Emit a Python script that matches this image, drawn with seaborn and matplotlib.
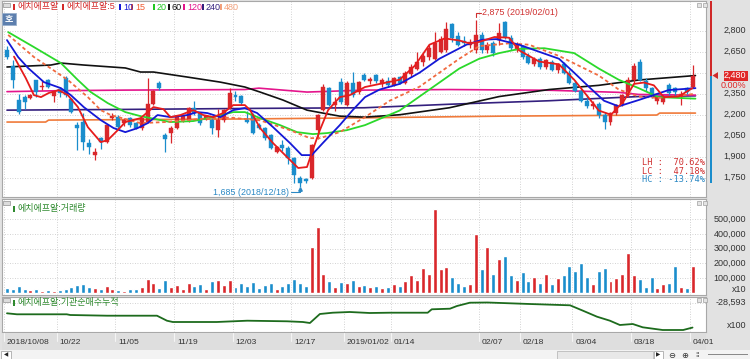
import matplotlib
matplotlib.use('Agg')
import matplotlib.pyplot as plt
from matplotlib.patches import Rectangle, Polygon
import numpy as np
import pandas as pd
import seaborn as sns

# 에치에프알 일봉 2018/10/08 ~ 2019/04/01 (118개)
opens = [2662, 2548, 2305, 2326, 2320, 2448, 2398, 2448, 2333, 2383, 2462, 2312, 2126, 2147, 1998, 1912,
         2033, 2005, 2176, 2183, 2140, 2176, 2140, 2105, 2148, 2276, 2426, 2055, 2069, 2105, 2162, 2162,
         2248, 2212, 2176, 2162, 2090, 2162, 2248, 2340, 2333, 2160, 2198, 2126, 2105, 2055, 1934, 1983,
         1962, 1891, 1748, 1740, 1748, 2090, 2233, 2390, 2269, 2433, 2269, 2426, 2362, 2483, 2440, 2483,
         2420, 2440, 2410, 2470, 2430, 2490, 2530, 2580, 2610, 2600, 2650, 2660, 2848, 2760, 2730, 2700,
         2662, 2770, 2660, 2710, 2733, 2860, 2750, 2660, 2690, 2620, 2560, 2600, 2540, 2580, 2520, 2560,
         2500, 2430, 2370, 2300, 2260, 2280, 2200, 2150, 2210, 2280, 2340, 2450, 2578, 2440, 2390, 2300,
         2290, 2412, 2390, 2330, 2390, 2400]
highs = [2690, 2590, 2345, 2340, 2345, 2450, 2450, 2455, 2370, 2400, 2475, 2320, 2150, 2212, 2030, 1960,
         2040, 2130, 2215, 2200, 2175, 2185, 2150, 2180, 2462, 2380, 2440, 2070, 2120, 2195, 2195, 2255,
         2300, 2220, 2200, 2176, 2240, 2240, 2390, 2370, 2340, 2230, 2210, 2140, 2110, 2060, 1975, 2020,
         1975, 1900, 1760, 1750, 1990, 2205, 2420, 2400, 2330, 2460, 2440, 2505, 2440, 2500, 2470, 2490,
         2460, 2470, 2470, 2480, 2510, 2560, 2650, 2640, 2700, 2790, 2760, 2860, 2855, 2790, 2760, 2740,
         2875, 2790, 2720, 2730, 2855, 2870, 2770, 2720, 2700, 2640, 2610, 2610, 2600, 2590, 2570, 2580,
         2520, 2450, 2390, 2340, 2300, 2290, 2220, 2220, 2280, 2350, 2470, 2570, 2600, 2460, 2400, 2335,
         2340, 2430, 2400, 2370, 2400, 2555]
lows = [2600, 2390, 2205, 2240, 2310, 2330, 2380, 2390, 2290, 2330, 2330, 2215, 1950, 1948, 1920, 1877,
        1955, 2000, 2165, 2100, 2120, 2110, 2095, 2090, 2140, 2270, 2380, 1934, 1995, 2100, 2150, 2150,
        2200, 2130, 2160, 2060, 2040, 2150, 2240, 2300, 2270, 2140, 2060, 2100, 2020, 1955, 1930, 1940,
        1850, 1712, 1685, 1715, 1740, 2030, 2225, 2260, 2230, 2280, 2260, 2330, 2350, 2440, 2420, 2430,
        2400, 2400, 2405, 2420, 2420, 2470, 2520, 2550, 2590, 2590, 2640, 2650, 2720, 2690, 2690, 2680,
        2640, 2640, 2640, 2620, 2700, 2740, 2660, 2650, 2600, 2560, 2550, 2530, 2530, 2510, 2500, 2490,
        2420, 2360, 2290, 2250, 2240, 2180, 2100, 2130, 2200, 2260, 2330, 2430, 2440, 2370, 2320, 2280,
        2280, 2340, 2340, 2270, 2350, 2390]
closes = [2612, 2448, 2220, 2290, 2340, 2362, 2405, 2398, 2362, 2355, 2340, 2220, 2105, 2005, 1969, 1934,
          2005, 2126, 2190, 2112, 2162, 2126, 2105, 2176, 2276, 2369, 2390, 2026, 2105, 2190, 2190, 2248,
          2212, 2140, 2190, 2105, 2162, 2233, 2355, 2326, 2283, 2150, 2069, 2105, 2033, 1962, 1969, 1962,
          1891, 1769, 1712, 1725, 1983, 2198, 2398, 2269, 2290, 2290, 2426, 2340, 2433, 2448, 2455, 2440,
          2450, 2410, 2460, 2430, 2495, 2540, 2580, 2620, 2680, 2712, 2740, 2810, 2748, 2700, 2715, 2720,
          2770, 2660, 2700, 2640, 2783, 2755, 2680, 2700, 2610, 2570, 2600, 2540, 2590, 2520, 2560, 2500,
          2430, 2370, 2300, 2260, 2280, 2200, 2150, 2210, 2270, 2340, 2450, 2550, 2448, 2390, 2340, 2330,
          2325, 2355, 2360, 2350, 2362, 2480]
volumes = [35000, 28000, 45000, 30000, 18000, 25000, 12000, 22000, 15000, 20000, 30000, 40000,
           55000, 60000, 40000, 35000, 30000, 45000, 25000, 20000, 15000,
           30000, 25000, 40000, 95000, 70000, 35000, 85000, 40000, 55000, 30000, 65000, 45000, 60000,
           25000, 80000, 90000, 55000, 85000, 40000, 70000,
           45000, 75000, 35000, 55000, 70000, 30000, 45000, 65000, 95000, 70000, 50000, 315000, 450000,
           130000, 80000, 40000, 75000, 70000, 85000, 45000, 55000,
           40000, 50000, 35000, 40000, 60000, 45000, 80000, 120000, 90000, 170000, 130000, 570000,
           160000, 175000, 110000, 70000, 45000, 60000,
           400000, 160000, 310000, 130000, 230000, 250000, 120000, 90000, 140000, 80000, 110000, 70000,
           130000, 60000, 100000, 120000, 180000,
           150000, 200000, 110000, 60000, 150000, 170000, 80000, 100000, 130000, 270000,
           120000, 93000, 40000, 107000, 33000, 60000, 67000, 183000, 40000, 33000, 183000]

# 이동평균선
ma5_x = [1.2, 3.2, 4.6, 5.8, 7.1, 8.8, 10.4, 12.1, 13.8, 16, 17.2, 18.9, 20.2, 22.8, 25, 26.7, 27.9, 29.6,
         31.8, 33.5, 35.2, 36.9, 38.6, 40.6, 41.5, 43.2, 45.4, 47.8, 49.7, 51.2, 52, 53.4, 54.8, 56.8, 58.5,
         61.1, 63.6, 67, 69.6, 72.1, 74.7, 77.2, 78.9, 80.6, 83.2, 85.7, 87.4, 90.8, 94.2, 96.8, 99.3, 101,
         103.1, 105.3, 107, 108.7, 110.4, 112.1, 114.6, 117]
ma5_y = [2615, 2462, 2340, 2326, 2355, 2376, 2340, 2255, 2112, 2005, 2019, 2090, 2148, 2176, 2255, 2240, 2183,
         2198, 2233, 2198, 2183, 2212, 2269, 2269, 2233, 2105, 1998, 1898, 1820, 1827, 1926, 2090, 2233, 2326,
         2340, 2398, 2420, 2450, 2550, 2700, 2745, 2730, 2710, 2720, 2755, 2750, 2660, 2580, 2560, 2450, 2320,
         2230, 2200, 2300, 2420, 2430, 2410, 2326, 2330, 2390]
ma10_x = [0, 1.9, 3.6, 6.3, 9.2, 10.9, 13.1, 16, 18.2, 20.2, 22.3, 24, 25.7, 27.9, 30.8, 32.5, 34.2, 36.4,
          38.6, 40.6, 42.7, 45.4, 48.3, 50.3, 52, 53.9, 56.8, 59, 61.1, 63.6, 67, 70.4, 73.8, 78.4, 81.1, 83.5,
          87.4, 90.8, 94.2, 96.8, 99.3, 101.9, 104.4, 107.8, 112.9, 117.5]
ma10_y = [2733, 2612, 2534, 2433, 2390, 2340, 2255, 2162, 2105, 2076, 2105, 2140, 2198, 2183, 2198, 2219, 2212,
          2183, 2233, 2248, 2212, 2112, 1998, 1912, 1912, 1998, 2126, 2233, 2326, 2380, 2420, 2500, 2600, 2700,
          2735, 2740, 2700, 2650, 2600, 2500, 2400, 2300, 2260, 2305, 2376, 2390]
ma15_x = [0.2, 4.6, 10.4, 13.8, 16, 17.7, 22.8, 27, 33, 38, 43.2, 48.3, 51.7, 53.4, 56.8, 61.1, 65.3, 70.4,
          77.2, 80.6, 85.7, 89.1, 94.2, 101, 104.4, 107.8, 111.2, 117.5]
ma15_y = [2770, 2612, 2448, 2326, 2233, 2198, 2140, 2148, 2170, 2180, 2160, 2090, 2033, 2033, 2076, 2183, 2300,
          2400, 2600, 2690, 2710, 2700, 2620, 2480, 2380, 2330, 2320, 2350]
ma20_x = [0.2, 4.6, 9.2, 12.1, 14.3, 17.2, 20.2, 22.8, 27.9, 31.8, 35.2, 38.6, 40.6, 43.2, 46.6, 49.5, 52.2,
          54.6, 58, 61.1, 67, 72.1, 77.2, 80.6, 84, 87.4, 91.7, 96.8, 101, 104.4, 107.8, 111.2, 117.5]
ma20_y = [2790, 2683, 2569, 2448, 2362, 2283, 2219, 2190, 2148, 2155, 2183, 2219, 2219, 2176, 2126, 2076, 2062,
          2069, 2090, 2126, 2230, 2380, 2530, 2600, 2640, 2670, 2675, 2640, 2530, 2450, 2390, 2326, 2315]
ma60_x = [0, 7.5, 9.2, 13.1, 20.2, 22.8, 25, 30.8, 36.4, 40.6, 43.2, 47.1, 51.2, 53.9, 56.8, 61.1, 67, 75.5,
          84, 92.5, 101, 107.8, 117.5]
ma60_y = [2541, 2555, 2569, 2555, 2534, 2505, 2505, 2469, 2433, 2398, 2362, 2305, 2233, 2212, 2190, 2183, 2200,
          2250, 2330, 2380, 2410, 2448, 2480]
ma120_x = [0, 9.2, 20.2, 40.6, 43, 51.2, 61, 75.5, 92.5, 104.4, 107.8, 117.5]
ma120_y = [2365, 2372, 2376, 2380, 2390, 2362, 2376, 2380, 2375, 2360, 2345, 2340]
ma240_x = [0, 20, 40.6, 61, 75.5, 92.5, 107.8, 117.5]
ma240_y = [2233, 2238, 2245, 2250, 2275, 2300, 2330, 2335]
ma480_x = [0, 6.6, 7.1, 40.6, 61, 84, 110.9, 111.4, 117.5]
ma480_y = [2148, 2148, 2162, 2170, 2178, 2190, 2198, 2212, 2212]

# 기관순매수누적 (x100)
cum_x = [0, 1.7, 10.2, 10.8, 17.1, 25.6, 27.3, 28.3, 35.8, 41, 47.8, 50.5, 51.7, 53.4, 55.6, 58.5, 61.9,
         65.4, 71.8, 72.5, 75.6, 76.8, 79, 82, 89.2, 96.1, 98.3, 100.7, 102.9, 104.6, 106.8, 108.5, 111.9,
         115.4, 117]
cum_y = [-29889, -30009, -30009, -30093, -30177, -30177, -30777, -30933, -30933, -30777, -30849, -30933,
         -31053, -29973, -29817, -29733, -29853, -29817, -29817, -29409, -29337, -29013, -28617, -28593,
         -28773, -28929, -29577, -30297, -30777, -31293, -31173, -31569, -31893, -31893, -31600]

date_idx = [0, 9, 19, 29, 39, 49, 58, 66, 81, 88, 97, 107, 117]
date_labels = ['2018/10/08', '10/22', '11/05', '11/19', '12/03', '12/17', '2019/01/02', '01/14',
               '02/07', '02/18', '03/04', '03/18', '04/01']
price_ticks = [1750, 1900, 2050, 2200, 2350, 2650, 2800]
vol_ticks = [100000, 200000, 300000, 400000, 500000]

UP = '#d9272b'
DOWN = '#1a8dcc'
GRID = '#c4c4c4'
AXC = '#333333'

sns.set_theme(style='white')
plt.rcParams['font.family'] = ['Liberation Sans Narrow', 'Liberation Sans', 'Noto Sans CJK KR', 'DejaVu Sans']

W, H = 750, 359
fig = plt.figure(figsize=(7.5, 3.59), dpi=100, facecolor='#e2e2e2')


def px_axes(x0, y0, x1, y1):
    return fig.add_axes([x0 / W, 1 - y1 / H, (x1 - x0) / W, (y1 - y0) / H])


def px_rect(x, y, w, h, fc, ec='none', lw=0.6):
    fig.patches.append(Rectangle((x / W, 1 - (y + h) / H), w / W, h / H, transform=fig.transFigure,
                                 facecolor=fc, edgecolor=ec, lw=lw))


def px_text(x, y, s, **kw):
    fig.text(x / W, 1 - y / H, s, **kw)


df = pd.DataFrame({'o': opens, 'h': highs, 'l': lows, 'c': closes, 'v': volumes})
df['i'] = np.arange(len(df))
colors = np.where(df['c'] >= df['o'], UP, DOWN)
xmin, xmax = -0.85, 119.3
ptop, pbot = 3012, 1613

ax = px_axes(2, 1, 706, 197)
ax_v = px_axes(2, 199, 706, 295)
ax_c = px_axes(2, 297, 706, 332)
ax_d = px_axes(2, 333, 706, 350)

for a in (ax, ax_v, ax_c, ax_d):
    a.set_xlim(xmin, xmax)
    a.set_xticks([])
    a.set_yticks([])
    for s in a.spines.values():
        s.set_color('#a8a8a8')
        s.set_linewidth(0.8)
    for t in date_idx:
        if a is not ax_d:
            a.axvline(t - 0.5, color=GRID, lw=0.6, ls=(0, (1, 2)), zorder=0)
ax_d.set_facecolor('#dedede')
ax_d.set_ylim(0, 1)
for s in ax_d.spines.values():
    s.set_visible(False)

# 가격 패널
ax.set_ylim(pbot, ptop)
for p in price_ticks + [2500]:
    ax.axhline(p, color=GRID, lw=0.6, ls=(0, (1, 2)), zorder=0)

ma_lines = [(ma480_x, ma480_y, '#f07a3a'), (ma240_x, ma240_y, '#34207e'),
            (ma120_x, ma120_y, '#e4158c'), (ma60_x, ma60_y, '#111111')]
for xs, ys, c in ma_lines:
    sns.lineplot(x=xs, y=ys, ax=ax, color=c, lw=1.2, zorder=2)

ax.vlines(df['i'], df['l'], df['h'], colors=colors, lw=0.9, zorder=3)
body = (df['c'] - df['o']).abs().clip(lower=7)
ax.bar(df['i'], body, bottom=df[['o', 'c']].min(axis=1), width=0.68, color=colors,
       edgecolor=colors, lw=0.3, zorder=3)

short_lines = [(ma20_x, ma20_y, '#2bd92b', '-'), (ma15_x, ma15_y, '#f06a40', (0, (2, 1.5))),
               (ma10_x, ma10_y, '#1418d6', '-'), (ma5_x, ma5_y, '#e61c1c', '-')]
for xs, ys, c, ls in short_lines:
    sns.lineplot(x=xs, y=ys, ax=ax, color=c, lw=1.3, linestyle=ls, zorder=4)
ax.set_xlabel('')
ax.set_ylabel('')

# 최고/최저 표시
hi_i = int(df['h'].idxmax())
lo_i = int(df['l'].idxmin())
hi = df['h'][hi_i]
lo = df['l'][lo_i]
ax.plot([hi_i, hi_i, hi_i + 0.9], [hi + 20, hi + 53, hi + 53], color='#d03030', lw=0.8, zorder=5)
ax.text(hi_i + 1.1, hi + 53, f'{hi:,} (2019/02/01)', color='#d03030', fontsize=6.4, va='center', ha='left')
ax.plot([lo_i - 1.6, lo_i, lo_i], [lo - 37, lo - 37, lo - 12], color='#2a88c4', lw=0.8, zorder=5)
ax.plot([lo_i], [lo - 12], marker='^', ms=2.5, color='#2a88c4', zorder=5)
ax.text(lo_i - 1.8, lo - 37, f'{lo:,} (2018/12/18)', color='#2a88c4', fontsize=6.4, va='center', ha='right')

ytr = ax.get_yaxis_transform()
for p in price_ticks:
    ax.text(1.057, p, f'{p:,}', transform=ytr, ha='right', va='center', fontsize=6.5, color=AXC)

# 현재가 표시
last = closes[-1]
last_px = 1 + (ptop - last) / (ptop - pbot) * 196
low_px = 1 + (ptop - 1713) / (ptop - pbot) * 196
px_rect(724, last_px - 5, 24, 10, '#e02828')
px_text(746, last_px, f'{last:,}', ha='right', va='center', fontsize=6.5, color='white')
px_text(746, last_px + 9.5, '0.00%', ha='right', va='center', fontsize=6.5, color='#e02828')
px_rect(709.5, 1, 2.2, last_px - 1, '#d02828')
px_rect(709.5, last_px, 2.2, low_px - last_px, '#1a8dcc')
fig.patches.append(Polygon([(712.5 / W, 1 - last_px / H), (718 / W, 1 - (last_px - 3.5) / H),
                            (718 / W, 1 - (last_px + 3.5) / H)], closed=True, transform=fig.transFigure,
                           facecolor='#d02828', edgecolor='none'))

# LH / LC / HC
for yy, s, c in [(162, 'LH :  70.62%', '#d03030'), (171, 'LC :  47.18%', '#d03030'),
                 (180, 'HC : -13.74%', '#2a88c4')]:
    px_text(705, yy, s, color=c, fontsize=6.2, ha='right', va='center', family='DejaVu Sans Mono')

# 거래량 패널
ax_v.set_ylim(-13500, 637000)
for v in vol_ticks:
    ax_v.axhline(v, color=GRID, lw=0.6, ls=(0, (1, 2)), zorder=0)
ax_v.bar(df['i'], df['v'], width=0.68, color=colors, zorder=2)
vtr = ax_v.get_yaxis_transform()
for v in vol_ticks:
    ax_v.text(1.057, v, f'{v:,}', transform=vtr, ha='right', va='center', fontsize=6.5, color=AXC)
px_text(746, 289, 'x10', ha='right', va='center', fontsize=6.5, color=AXC)

# 기관순매수누적 패널
ax_c.set_ylim(-32133, -27933)
ax_c.axhline(-28593, color=GRID, lw=0.6, ls=(0, (1, 2)), zorder=0)
sns.lineplot(x=cum_x, y=cum_y, ax=ax_c, color='#1d6b1d', lw=1.3)
ax_c.set_xlabel('')
ax_c.set_ylabel('')
px_text(746, 302, f'{max(cum_y):,}', ha='right', va='center', fontsize=6.5, color=AXC)
px_text(746, 326, 'x100', ha='right', va='center', fontsize=6.5, color=AXC)

# 날짜축
for t, lab in zip(date_idx, date_labels):
    ax_d.plot([t - 0.5, t - 0.5], [1, 0.55], color='#f4f4f4', lw=0.8)
    ax_d.text(t - 0.5 + 0.5, 0.45, lab, ha='left', va='center', fontsize=6.1, color=AXC)

# 범례 / 패널 제목
legend = [(13, '에치에프알', '#d42a2a'), (62, '에치에프알:5', '#d42a2a'), (119, '10', '#1418d6'),
          (131, '15', '#f05a30'), (153, '20', '#22c822'), (168, '60', '#111111'),
          (183, '120', '#e4158c'), (202, '240', '#34207e'), (220, '480', '#f4a07a')]
for x, s, c in legend:
    px_rect(x, 4, 2, 6, c)
    px_text(x + 4, 7, s, color=c, fontsize=6.5, va='center', ha='left')
for yy in (3, 201, 298):
    px_rect(3, yy, 7, 4, '#dcdcdc', ec='#909090', lw=0.5)
    px_rect(697, yy, 4, 4, '#e4e4e4', ec='#a0a0a0', lw=0.5)
    px_rect(703, yy, 4, 4, '#e4e4e4', ec='#a0a0a0', lw=0.5)
px_rect(2, 13, 14, 12, '#5d7fae', ec='#9ab0cc', lw=0.6)
px_text(9, 19, '호', color='white', fontsize=6.5, ha='center', va='center', fontweight='bold')
px_rect(13, 206, 2, 6, '#2f8a2f')
px_text(17, 209, '에치에프알:거래량', color='#2f8a2f', fontsize=6.5, va='center', ha='left')
px_rect(13, 300, 2, 6, '#2f8a2f')
px_text(17, 303, '에치에프알:기관순매수누적', color='#2f8a2f', fontsize=6.5, va='center', ha='left')

# 하단 스크롤바
px_rect(0, 350, 750, 9, '#f3f3f3')
px_rect(1, 351, 10, 8, '#ffffff', ec='#9a9a9a', lw=0.5)
px_text(6, 355, '◀', fontsize=4, ha='center', va='center', color='#222222', family='DejaVu Sans')
px_rect(557, 351, 96, 8, '#e8e8e8', ec='#b0b0b0', lw=0.5)
px_rect(654, 351, 9, 8, '#ffffff', ec='#9a9a9a', lw=0.5)
px_text(658.5, 355, '▶', fontsize=4, ha='center', va='center', color='#222222', family='DejaVu Sans')
px_text(672, 355, '⊖', fontsize=6, ha='center', va='center', color='#333333', family='DejaVu Sans')
px_text(685, 355, '⊕', fontsize=6, ha='center', va='center', color='#333333', family='DejaVu Sans')
px_text(697, 355, '⁞⁞', fontsize=5, ha='center', va='center', color='#333333', family='DejaVu Sans')
px_rect(708, 354, 40, 1, '#8a8a8a')

fig.savefig('out.png', dpi=100, facecolor=fig.get_facecolor())
